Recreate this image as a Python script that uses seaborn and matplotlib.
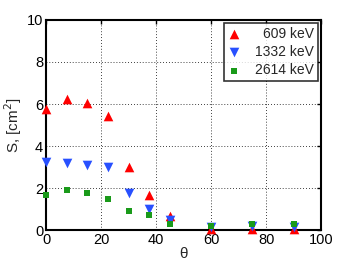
import numpy as np
import pandas as pd
import matplotlib
matplotlib.use("Agg")
import matplotlib.pyplot as plt
import seaborn as sns

theta = [0, 7.5, 15, 22.5, 30, 37.5, 45, 60, 75, 90]
s_609 = [5.75, 6.25, 6.05, 5.45, 3.0, 1.67, 0.68, 0.05, 0.05, 0.07]
s_1332 = [3.24, 3.17, 3.1, 2.98, 1.75, 1.02, 0.48, 0.15, 0.2, 0.15]
s_2614 = [1.67, 1.9, 1.78, 1.49, 0.89, 0.71, 0.29, 0.19, 0.28, 0.28]
labels = ["609 keV", "1332 keV", "2614 keV"]

sns.set_style("white")
plt.rcParams['font.family'] = ['Liberation Sans', 'DejaVu Sans']

df = pd.DataFrame({
    "theta": theta * 3,
    "S": s_609 + s_1332 + s_2614,
    "E": [labels[0]] * len(theta) + [labels[1]] * len(theta) + [labels[2]] * len(theta),
})

fig = plt.figure(figsize=(3.54, 2.66), dpi=100)
ax = fig.add_axes([0.130, 0.135, 0.777, 0.790])

palette = {labels[0]: "#ff0000", labels[1]: "#2850ff", labels[2]: "#1a9a1a"}
markers = {labels[0]: "^", labels[1]: "v", labels[2]: "s"}
sizes = {labels[0]: 48, labels[1]: 48, labels[2]: 24}
for lab in labels:
    sub = df[df["E"] == lab]
    sns.scatterplot(data=sub, x="theta", y="S", color=palette[lab], marker=markers[lab],
                    s=sizes[lab], linewidth=0, ax=ax, label=lab, zorder=3, clip_on=False)

ax.set_xlim(0, 100)
ax.set_ylim(0, 10)
ax.set_xticks([0, 20, 40, 60, 80, 100])
ax.set_yticks([0, 2, 4, 6, 8, 10])
ax.grid(True, color="black", linestyle=(0, (1, 2.5)), linewidth=0.6)
ax.tick_params(direction="in", length=3, width=1, labelsize=10.5, top=True, right=True,
               colors="black", pad=2)
for sp in ax.spines.values():
    sp.set_linewidth(1.5)
    sp.set_color("black")
    sp.set_visible(True)
ax.set_xlabel("θ", fontsize=11, labelpad=0)
ax.set_ylabel("S, [cm$^2$]", fontsize=11, labelpad=2)

leg = ax.legend(loc="upper right", frameon=True, fancybox=False, edgecolor="black",
                fontsize=10, borderpad=0.25, handletextpad=1.0, labelspacing=0.3,
                borderaxespad=0.25, handlelength=1.0)
leg.get_frame().set_linewidth(1.2)

fig.canvas.draw()
r = fig.canvas.get_renderer()
texts = leg.get_texts()
widths = [t.get_window_extent(r).width for t in texts]
mw = max(widths)
for t, w in zip(texts, widths):
    t.set_position((mw - w, 0))

fig.savefig("out.png", dpi=100)
